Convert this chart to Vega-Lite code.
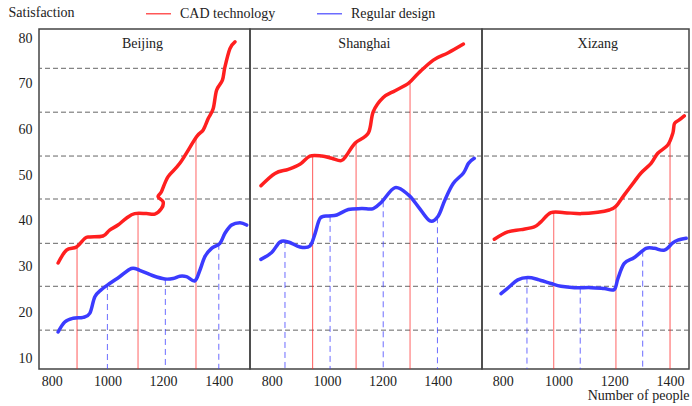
{
  "$schema": "https://vega.github.io/schema/vega-lite/v6.json",
  "padding": {"left": 7, "top": 0, "right": 2, "bottom": 2},
  "background": "white",
  "bounds": "flush",
  "datasets": {
    "grid": [{"y": 73.4}, {"y": 63.8}, {"y": 54.2}, {"y": 44.8}, {"y": 35.1}, {"y": 25.7}, {"y": 16.1}],
    "lines": [
      {"c": "Beijing", "s": "CAD technology", "x": 823, "y": 30.8},
      {"c": "Beijing", "s": "CAD technology", "x": 853, "y": 33.6},
      {"c": "Beijing", "s": "CAD technology", "x": 889, "y": 34.3},
      {"c": "Beijing", "s": "CAD technology", "x": 919, "y": 36.2},
      {"c": "Beijing", "s": "CAD technology", "x": 937, "y": 36.5},
      {"c": "Beijing", "s": "CAD technology", "x": 984, "y": 36.7},
      {"c": "Beijing", "s": "CAD technology", "x": 1008, "y": 38.0},
      {"c": "Beijing", "s": "CAD technology", "x": 1038, "y": 39.1},
      {"c": "Beijing", "s": "CAD technology", "x": 1068, "y": 40.6},
      {"c": "Beijing", "s": "CAD technology", "x": 1098, "y": 41.6},
      {"c": "Beijing", "s": "CAD technology", "x": 1140, "y": 41.6},
      {"c": "Beijing", "s": "CAD technology", "x": 1170, "y": 41.5},
      {"c": "Beijing", "s": "CAD technology", "x": 1194, "y": 42.7},
      {"c": "Beijing", "s": "CAD technology", "x": 1200, "y": 44.2},
      {"c": "Beijing", "s": "CAD technology", "x": 1182, "y": 45.3},
      {"c": "Beijing", "s": "CAD technology", "x": 1194, "y": 46.4},
      {"c": "Beijing", "s": "CAD technology", "x": 1218, "y": 49.7},
      {"c": "Beijing", "s": "CAD technology", "x": 1260, "y": 52.6},
      {"c": "Beijing", "s": "CAD technology", "x": 1320, "y": 58.4},
      {"c": "Beijing", "s": "CAD technology", "x": 1344, "y": 59.9},
      {"c": "Beijing", "s": "CAD technology", "x": 1362, "y": 62.4},
      {"c": "Beijing", "s": "CAD technology", "x": 1380, "y": 64.6},
      {"c": "Beijing", "s": "CAD technology", "x": 1392, "y": 68.6},
      {"c": "Beijing", "s": "CAD technology", "x": 1413, "y": 70.8},
      {"c": "Beijing", "s": "CAD technology", "x": 1422, "y": 73.7},
      {"c": "Beijing", "s": "CAD technology", "x": 1440, "y": 77.7},
      {"c": "Beijing", "s": "CAD technology", "x": 1458, "y": 79.2},
      {"c": "Beijing", "s": "Regular design", "x": 823, "y": 15.7},
      {"c": "Beijing", "s": "Regular design", "x": 847, "y": 17.9},
      {"c": "Beijing", "s": "Regular design", "x": 877, "y": 18.7},
      {"c": "Beijing", "s": "Regular design", "x": 913, "y": 18.9},
      {"c": "Beijing", "s": "Regular design", "x": 937, "y": 19.8},
      {"c": "Beijing", "s": "Regular design", "x": 955, "y": 23.4},
      {"c": "Beijing", "s": "Regular design", "x": 979, "y": 25.0},
      {"c": "Beijing", "s": "Regular design", "x": 1008, "y": 26.3},
      {"c": "Beijing", "s": "Regular design", "x": 1044, "y": 27.8},
      {"c": "Beijing", "s": "Regular design", "x": 1086, "y": 29.6},
      {"c": "Beijing", "s": "Regular design", "x": 1116, "y": 29.2},
      {"c": "Beijing", "s": "Regular design", "x": 1164, "y": 28.0},
      {"c": "Beijing", "s": "Regular design", "x": 1206, "y": 27.3},
      {"c": "Beijing", "s": "Regular design", "x": 1236, "y": 27.4},
      {"c": "Beijing", "s": "Regular design", "x": 1260, "y": 27.9},
      {"c": "Beijing", "s": "Regular design", "x": 1284, "y": 27.8},
      {"c": "Beijing", "s": "Regular design", "x": 1314, "y": 26.9},
      {"c": "Beijing", "s": "Regular design", "x": 1332, "y": 29.2},
      {"c": "Beijing", "s": "Regular design", "x": 1350, "y": 32.2},
      {"c": "Beijing", "s": "Regular design", "x": 1374, "y": 34.0},
      {"c": "Beijing", "s": "Regular design", "x": 1404, "y": 35.1},
      {"c": "Beijing", "s": "Regular design", "x": 1422, "y": 37.3},
      {"c": "Beijing", "s": "Regular design", "x": 1446, "y": 39.1},
      {"c": "Beijing", "s": "Regular design", "x": 1476, "y": 39.6},
      {"c": "Beijing", "s": "Regular design", "x": 1500, "y": 39.1},
      {"c": "Shanghai", "s": "CAD technology", "x": 761, "y": 47.7},
      {"c": "Shanghai", "s": "CAD technology", "x": 812, "y": 50.4},
      {"c": "Shanghai", "s": "CAD technology", "x": 860, "y": 51.3},
      {"c": "Shanghai", "s": "CAD technology", "x": 902, "y": 52.4},
      {"c": "Shanghai", "s": "CAD technology", "x": 938, "y": 54.2},
      {"c": "Shanghai", "s": "CAD technology", "x": 981, "y": 54.2},
      {"c": "Shanghai", "s": "CAD technology", "x": 1017, "y": 53.7},
      {"c": "Shanghai", "s": "CAD technology", "x": 1051, "y": 53.2},
      {"c": "Shanghai", "s": "CAD technology", "x": 1071, "y": 54.4},
      {"c": "Shanghai", "s": "CAD technology", "x": 1101, "y": 57.0},
      {"c": "Shanghai", "s": "CAD technology", "x": 1149, "y": 59.2},
      {"c": "Shanghai", "s": "CAD technology", "x": 1167, "y": 63.9},
      {"c": "Shanghai", "s": "CAD technology", "x": 1203, "y": 67.0},
      {"c": "Shanghai", "s": "CAD technology", "x": 1246, "y": 68.5},
      {"c": "Shanghai", "s": "CAD technology", "x": 1294, "y": 70.1},
      {"c": "Shanghai", "s": "CAD technology", "x": 1330, "y": 72.3},
      {"c": "Shanghai", "s": "CAD technology", "x": 1384, "y": 75.2},
      {"c": "Shanghai", "s": "CAD technology", "x": 1438, "y": 76.8},
      {"c": "Shanghai", "s": "CAD technology", "x": 1493, "y": 78.7},
      {"c": "Shanghai", "s": "Regular design", "x": 761, "y": 31.6},
      {"c": "Shanghai", "s": "Regular design", "x": 800, "y": 33.1},
      {"c": "Shanghai", "s": "Regular design", "x": 830, "y": 35.4},
      {"c": "Shanghai", "s": "Regular design", "x": 860, "y": 35.4},
      {"c": "Shanghai", "s": "Regular design", "x": 902, "y": 34.3},
      {"c": "Shanghai", "s": "Regular design", "x": 938, "y": 34.5},
      {"c": "Shanghai", "s": "Regular design", "x": 957, "y": 37.3},
      {"c": "Shanghai", "s": "Regular design", "x": 975, "y": 40.6},
      {"c": "Shanghai", "s": "Regular design", "x": 1005, "y": 41.1},
      {"c": "Shanghai", "s": "Regular design", "x": 1035, "y": 41.3},
      {"c": "Shanghai", "s": "Regular design", "x": 1077, "y": 42.5},
      {"c": "Shanghai", "s": "Regular design", "x": 1125, "y": 42.7},
      {"c": "Shanghai", "s": "Regular design", "x": 1167, "y": 42.7},
      {"c": "Shanghai", "s": "Regular design", "x": 1198, "y": 44.2},
      {"c": "Shanghai", "s": "Regular design", "x": 1246, "y": 47.3},
      {"c": "Shanghai", "s": "Regular design", "x": 1294, "y": 45.7},
      {"c": "Shanghai", "s": "Regular design", "x": 1330, "y": 43.1},
      {"c": "Shanghai", "s": "Regular design", "x": 1372, "y": 40.0},
      {"c": "Shanghai", "s": "Regular design", "x": 1402, "y": 41.1},
      {"c": "Shanghai", "s": "Regular design", "x": 1426, "y": 44.6},
      {"c": "Shanghai", "s": "Regular design", "x": 1456, "y": 48.2},
      {"c": "Shanghai", "s": "Regular design", "x": 1493, "y": 50.5},
      {"c": "Shanghai", "s": "Regular design", "x": 1511, "y": 52.6},
      {"c": "Shanghai", "s": "Regular design", "x": 1532, "y": 53.7},
      {"c": "Xizang", "s": "CAD technology", "x": 770, "y": 36.0},
      {"c": "Xizang", "s": "CAD technology", "x": 818, "y": 37.6},
      {"c": "Xizang", "s": "CAD technology", "x": 866, "y": 38.1},
      {"c": "Xizang", "s": "CAD technology", "x": 913, "y": 38.7},
      {"c": "Xizang", "s": "CAD technology", "x": 937, "y": 39.8},
      {"c": "Xizang", "s": "CAD technology", "x": 973, "y": 41.8},
      {"c": "Xizang", "s": "CAD technology", "x": 1021, "y": 41.8},
      {"c": "Xizang", "s": "CAD technology", "x": 1081, "y": 41.6},
      {"c": "Xizang", "s": "CAD technology", "x": 1141, "y": 41.9},
      {"c": "Xizang", "s": "CAD technology", "x": 1182, "y": 42.4},
      {"c": "Xizang", "s": "CAD technology", "x": 1206, "y": 43.2},
      {"c": "Xizang", "s": "CAD technology", "x": 1236, "y": 45.7},
      {"c": "Xizang", "s": "CAD technology", "x": 1272, "y": 48.6},
      {"c": "Xizang", "s": "CAD technology", "x": 1296, "y": 50.5},
      {"c": "Xizang", "s": "CAD technology", "x": 1332, "y": 52.6},
      {"c": "Xizang", "s": "CAD technology", "x": 1356, "y": 54.8},
      {"c": "Xizang", "s": "CAD technology", "x": 1392, "y": 56.6},
      {"c": "Xizang", "s": "CAD technology", "x": 1410, "y": 59.2},
      {"c": "Xizang", "s": "CAD technology", "x": 1416, "y": 61.3},
      {"c": "Xizang", "s": "CAD technology", "x": 1433, "y": 62.1},
      {"c": "Xizang", "s": "CAD technology", "x": 1451, "y": 63.0},
      {"c": "Xizang", "s": "Regular design", "x": 794, "y": 24.1},
      {"c": "Xizang", "s": "Regular design", "x": 824, "y": 25.6},
      {"c": "Xizang", "s": "Regular design", "x": 854, "y": 27.1},
      {"c": "Xizang", "s": "Regular design", "x": 890, "y": 27.6},
      {"c": "Xizang", "s": "Regular design", "x": 926, "y": 27.2},
      {"c": "Xizang", "s": "Regular design", "x": 973, "y": 26.3},
      {"c": "Xizang", "s": "Regular design", "x": 1009, "y": 25.7},
      {"c": "Xizang", "s": "Regular design", "x": 1057, "y": 25.4},
      {"c": "Xizang", "s": "Regular design", "x": 1117, "y": 25.4},
      {"c": "Xizang", "s": "Regular design", "x": 1164, "y": 25.2},
      {"c": "Xizang", "s": "Regular design", "x": 1200, "y": 25.0},
      {"c": "Xizang", "s": "Regular design", "x": 1213, "y": 27.4},
      {"c": "Xizang", "s": "Regular design", "x": 1236, "y": 30.7},
      {"c": "Xizang", "s": "Regular design", "x": 1272, "y": 32.0},
      {"c": "Xizang", "s": "Regular design", "x": 1314, "y": 34.0},
      {"c": "Xizang", "s": "Regular design", "x": 1344, "y": 34.0},
      {"c": "Xizang", "s": "Regular design", "x": 1380, "y": 33.6},
      {"c": "Xizang", "s": "Regular design", "x": 1410, "y": 35.2},
      {"c": "Xizang", "s": "Regular design", "x": 1428, "y": 35.8},
      {"c": "Xizang", "s": "Regular design", "x": 1458, "y": 36.2}
    ],
    "drops": [
      {"c": "Beijing", "s": "CAD technology", "x": 891, "y": 34.3},
      {"c": "Beijing", "s": "CAD technology", "x": 1110, "y": 41.6},
      {"c": "Beijing", "s": "CAD technology", "x": 1318, "y": 58.0},
      {"c": "Beijing", "s": "Regular design", "x": 1000, "y": 26.2},
      {"c": "Beijing", "s": "Regular design", "x": 1208, "y": 27.3},
      {"c": "Beijing", "s": "Regular design", "x": 1400, "y": 35.0},
      {"c": "Shanghai", "s": "CAD technology", "x": 948, "y": 54.2},
      {"c": "Shanghai", "s": "CAD technology", "x": 1105, "y": 57.0},
      {"c": "Shanghai", "s": "CAD technology", "x": 1300, "y": 70.3},
      {"c": "Shanghai", "s": "Regular design", "x": 848, "y": 35.4},
      {"c": "Shanghai", "s": "Regular design", "x": 1011, "y": 41.1},
      {"c": "Shanghai", "s": "Regular design", "x": 1203, "y": 44.3},
      {"c": "Shanghai", "s": "Regular design", "x": 1399, "y": 40.8},
      {"c": "Xizang", "s": "CAD technology", "x": 983, "y": 41.8},
      {"c": "Xizang", "s": "CAD technology", "x": 1206, "y": 43.2},
      {"c": "Xizang", "s": "CAD technology", "x": 1400, "y": 57.5},
      {"c": "Xizang", "s": "Regular design", "x": 887, "y": 27.6},
      {"c": "Xizang", "s": "Regular design", "x": 1078, "y": 25.4},
      {"c": "Xizang", "s": "Regular design", "x": 1302, "y": 33.5}
    ],
    "cities": [{"c": "Beijing"}, {"c": "Shanghai"}, {"c": "Xizang"}]
  },
  "spacing": 0,
  "resolve": {"scale": {"x": "independent", "y": "shared", "color": "shared"}},
  "hconcat": [
    {
      "width": 211, "height": 340,
      "layer": [
        {"data": {"name": "grid"}, "mark": {"type": "rule", "color": "#666", "strokeDash": [5, 3], "strokeWidth": 1},
         "encoding": {"y": {"field": "y", "type": "quantitative", "title": "Satisfaction", "scale": {"domain": [7.6, 82], "nice": false, "zero": false}, "axis": {"values": [10, 20, 30, 40, 50, 60, 70, 80]}}}},
        {"data": {"name": "drops"}, "transform": [{"filter": "datum.c == 'Beijing'"}], "mark": {"type": "rule", "strokeWidth": 1, "opacity": 0.75},
         "encoding": {
           "x": {"field": "x", "type": "quantitative", "title": null, "scale": {"domain": [754.4, 1512], "nice": false, "zero": false}, "axis": {"values": [800, 1000, 1200, 1400]}},
           "y": {"field": "y", "type": "quantitative", "title": "Satisfaction", "axis": {"values": [10, 20, 30, 40, 50, 60, 70, 80]}},
           "y2": {"datum": 7.6},
           "color": {"field": "s", "type": "nominal", "title": null},
           "strokeDash": {"field": "s", "type": "nominal", "scale": {"domain": ["CAD technology", "Regular design"], "range": [[1, 0], [6, 4]]}, "legend": null}}},
        {"data": {"name": "lines"}, "transform": [{"filter": "datum.c == 'Beijing'"}], "mark": {"type": "line", "strokeWidth": 3.5, "interpolate": "cardinal", "strokeCap": "round"},
         "encoding": {
           "x": {"field": "x", "type": "quantitative", "title": null, "axis": {"values": [800, 1000, 1200, 1400]}},
           "y": {"field": "y", "type": "quantitative", "title": "Satisfaction", "axis": {"values": [10, 20, 30, 40, 50, 60, 70, 80]}},
           "color": {"field": "s", "type": "nominal", "title": null},
           "order": {"value": null}}},
        {"data": {"name": "cities"}, "transform": [{"filter": "datum.c == 'Beijing'"}], "mark": {"type": "text", "fontSize": 14, "color": "#222", "baseline": "middle"},
         "encoding": {"text": {"field": "c"}, "x": {"datum": 1126}, "y": {"datum": 78.7}}}
      ]
    },
    {
      "width": 232, "height": 340,
      "layer": [
        {"data": {"name": "grid"}, "mark": {"type": "rule", "color": "#666", "strokeDash": [5, 3], "strokeWidth": 1},
         "encoding": {"y": {"field": "y", "type": "quantitative", "axis": null}}},
        {"data": {"name": "drops"}, "transform": [{"filter": "datum.c == 'Shanghai'"}], "mark": {"type": "rule", "strokeWidth": 1, "opacity": 0.75},
         "encoding": {
           "x": {"field": "x", "type": "quantitative", "title": null, "scale": {"domain": [721.6, 1560], "nice": false, "zero": false}, "axis": {"values": [800, 1000, 1200, 1400]}},
           "y": {"field": "y", "type": "quantitative", "axis": null},
           "y2": {"datum": 7.6},
           "color": {"field": "s", "type": "nominal", "title": null},
           "strokeDash": {"field": "s", "type": "nominal", "legend": null}}},
        {"data": {"name": "lines"}, "transform": [{"filter": "datum.c == 'Shanghai'"}], "mark": {"type": "line", "strokeWidth": 3.5, "interpolate": "cardinal", "strokeCap": "round"},
         "encoding": {
           "x": {"field": "x", "type": "quantitative", "title": null, "axis": {"values": [800, 1000, 1200, 1400]}},
           "y": {"field": "y", "type": "quantitative", "axis": null},
           "color": {"field": "s", "type": "nominal", "title": null},
           "order": {"value": null}}},
        {"data": {"name": "cities"}, "transform": [{"filter": "datum.c == 'Shanghai'"}], "mark": {"type": "text", "fontSize": 14, "color": "#222", "baseline": "middle"},
         "encoding": {"text": {"field": "c"}, "x": {"datum": 1135}, "y": {"datum": 78.7, "axis": null}}}
      ]
    },
    {
      "width": 207, "height": 340,
      "layer": [
        {"data": {"name": "grid"}, "mark": {"type": "rule", "color": "#666", "strokeDash": [5, 3], "strokeWidth": 1},
         "encoding": {"y": {"field": "y", "type": "quantitative", "axis": null}}},
        {"data": {"name": "drops"}, "transform": [{"filter": "datum.c == 'Xizang'"}], "mark": {"type": "rule", "strokeWidth": 1, "opacity": 0.75},
         "encoding": {
           "x": {"field": "x", "type": "quantitative", "title": "Number of people", "scale": {"domain": [725.8, 1468], "nice": false, "zero": false}, "axis": {"values": [800, 1000, 1200, 1400], "titleAnchor": "end"}},
           "y": {"field": "y", "type": "quantitative", "axis": null},
           "y2": {"datum": 7.6},
           "color": {"field": "s", "type": "nominal", "title": null},
           "strokeDash": {"field": "s", "type": "nominal", "legend": null}}},
        {"data": {"name": "lines"}, "transform": [{"filter": "datum.c == 'Xizang'"}], "mark": {"type": "line", "strokeWidth": 3.5, "interpolate": "cardinal", "strokeCap": "round"},
         "encoding": {
           "x": {"field": "x", "type": "quantitative", "title": "Number of people", "axis": {"values": [800, 1000, 1200, 1400], "titleAnchor": "end"}},
           "y": {"field": "y", "type": "quantitative", "axis": null},
           "color": {"field": "s", "type": "nominal", "title": null},
           "order": {"value": null}}},
        {"data": {"name": "cities"}, "transform": [{"filter": "datum.c == 'Xizang'"}], "mark": {"type": "text", "fontSize": 14, "color": "#222", "baseline": "middle"},
         "encoding": {"text": {"field": "c"}, "x": {"datum": 1141, "title": "Number of people", "axis": {"values": [800, 1000, 1200, 1400], "titleAnchor": "end"}}, "y": {"datum": 78.7, "axis": null}}}
      ]
    }
  ],
  "config": {
    "font": "Liberation Serif",
    "view": {"stroke": "#444", "strokeWidth": 1.5},
    "range": {"category": ["#ff1f1f", "#3b3bff"]},
    "text": {"font": "Liberation Serif"},
    "axis": {"grid": false, "ticks": false, "domain": false, "format": "d", "labelFont": "Liberation Serif", "labelFontSize": 14, "labelColor": "#222", "titleFont": "Liberation Serif", "titleFontSize": 14, "titleFontWeight": "normal", "titleColor": "#222"},
    "axisX": {"labelPadding": 5, "titlePadding": 0},
    "axisY": {"labelPadding": 7, "titleAngle": 0, "titleAlign": "left", "titleBaseline": "middle", "titleX": -31, "titleY": -17},
    "legend": {"orient": "none", "legendX": 106, "legendY": -29, "direction": "horizontal", "symbolType": "stroke", "symbolSize": 625, "symbolStrokeWidth": 1.5, "labelFont": "Liberation Serif", "labelFontSize": 14, "labelColor": "#222", "columnPadding": 38, "labelOffset": 8}
  }
}
